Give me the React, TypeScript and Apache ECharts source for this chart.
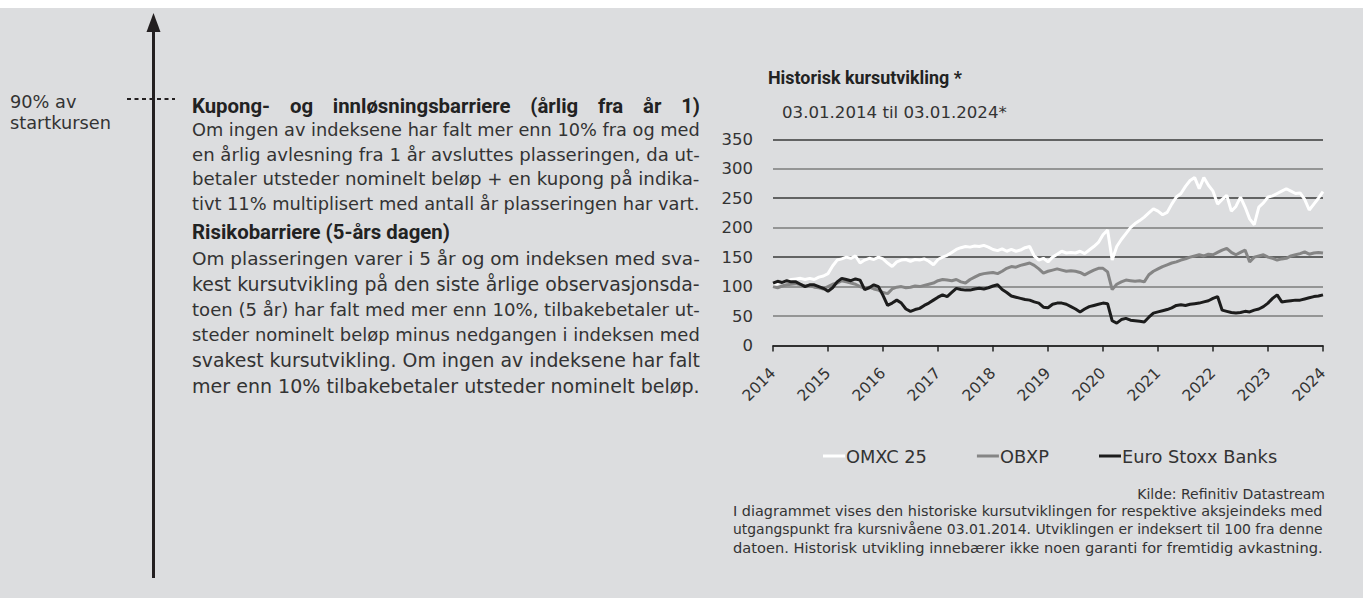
import React, { useEffect, useRef } from "react";
import * as echarts from "echarts";

// ---- Data (monthly, Jan 2014 .. Jan 2024, indexed to 100) ----
const startYear = 2014;
const endYear = 2024;
const seriesNames = ["OMXC 25", "OBXP", "Euro Stoxx Banks"];
const seriesColors = ["#ffffff", "#858585", "#1c1c1c"];

const omxc25 = [
  103, 105, 108, 110, 112, 113, 114, 112, 114, 112, 116, 118,
  122, 135, 145, 147, 150, 148, 152, 140, 145, 148, 146, 150,
  147, 140, 134, 142, 145, 146, 143, 146, 145, 147, 143, 137,
  146, 150, 153, 158, 163, 166, 168, 167, 169, 168, 170, 167,
  163, 161, 164, 160, 163, 160, 162, 166, 168, 152, 145, 148,
  142, 150, 155, 160, 157, 158, 157, 160, 156, 162, 168, 175,
  188, 196, 145, 168, 180, 190, 200, 207, 212, 218, 225, 232,
  228, 222, 226, 240, 252, 258, 270, 280, 285, 266, 285, 272,
  262, 240, 248, 255, 228, 236, 252, 235, 215, 205, 235, 242,
  252, 254, 258, 262, 266, 262, 258, 259, 248, 230, 240, 250,
  261,
];

const obxp = [
  100, 98, 101, 103, 104, 105, 103, 101, 102, 99, 98, 96,
  100, 104, 106, 110, 108, 106, 104, 100, 97, 99, 96, 94,
  90, 88, 96, 99, 100, 98, 99, 101, 100, 102, 104, 106,
  110, 112, 111, 110, 112, 108, 106, 112, 116, 120, 122, 123,
  124, 122, 126, 131, 134, 133, 136, 138, 140, 136, 130, 123,
  126, 128, 130, 128, 126, 127, 126, 124, 120, 124, 128, 131,
  131, 125, 95, 104, 108, 111, 110, 109, 110, 108, 120, 126,
  130, 134, 137, 140, 142, 145, 147, 150, 152, 154, 152, 155,
  154, 158, 162, 165, 158, 154, 158, 162, 142, 150, 152, 154,
  150, 148, 145, 147, 148, 152, 154, 156, 159, 155, 157, 158,
  157,
];

const euroStoxxBanks = [
  106, 109, 107, 110, 108, 108, 104, 100, 103, 103, 100, 97,
  92, 98, 108, 114, 112, 110, 113, 111, 95, 98, 103, 100,
  85, 68, 72, 77, 72, 62, 58, 61, 63, 68, 72, 77,
  82, 86, 83, 90, 97, 95, 94, 94, 96, 97, 96, 98,
  101, 103, 95, 90, 84, 82, 80, 78, 77, 74, 72, 65,
  64, 70, 72, 72, 70, 66, 62, 57, 62, 66, 68, 70,
  72, 71, 42, 38, 44, 46, 43, 42, 41, 40, 48, 55,
  57, 59, 61, 64, 68, 69, 68, 70, 71, 72, 74, 76,
  80, 83, 60, 58, 56, 55, 56, 58, 57, 60, 62, 66,
  72, 80, 86, 74, 75, 76, 77, 77, 79, 81, 83, 84,
  86,
];

const seriesValues = [omxc25, obxp, euroStoxxBanks];

// ---- Texts ----
const leftLabel = ["90% av", "startkursen"];
const heading1 = "Kupong- og innløsningsbarriere (årlig fra år 1)";
const para1 = [
  "Om ingen av indeksene har falt mer enn 10% fra og med",
  "en årlig avlesning fra 1 år avsluttes plasseringen, da ut-",
  "betaler utsteder nominelt beløp + en kupong på indika-",
  "tivt 11% multiplisert med antall år plasseringen har vart.",
];
const heading2 = "Risikobarriere (5-års dagen)";
const para2 = [
  "Om plasseringen varer i 5 år og om indeksen med sva-",
  "kest kursutvikling på den siste årlige observasjonsda-",
  "toen (5 år) har falt med mer enn 10%, tilbakebetaler ut-",
  "steder nominelt beløp minus nedgangen i indeksen med",
  "svakest kursutvikling. Om ingen av indeksene har falt",
  "mer enn 10% tilbakebetaler utsteder nominelt beløp.",
];
const chartTitle = "Historisk kursutvikling *";
const chartSubtitle = "03.01.2014 til 03.01.2024*";
const sourceText = "Kilde: Refinitiv Datastream";
const footnote = [
  "I diagrammet vises den historiske kursutviklingen for respektive aksjeindeks med",
  "utgangspunkt fra kursnivåene 03.01.2014. Utviklingen er indeksert til 100 fra denne",
  "datoen. Historisk utvikling innebærer ikke noen garanti for fremtidig avkastning.",
];

const FONT = "'DejaVu Sans', sans-serif";
const BOLD_FONT = "Roboto, 'DejaVu Sans', sans-serif";
const TEXT = "#333333";

let measureCtx: CanvasRenderingContext2D | null = null;
function widthAt(text: string, size: number, weight: string, family: string): number {
  if (!measureCtx) measureCtx = document.createElement("canvas").getContext("2d");
  if (!measureCtx) return text.length * size * 0.55;
  measureCtx.font = `${weight} ${size}px ${family}`;
  return measureCtx.measureText(text).width;
}
function fitOne(text: string, weight: string, family: string, target: number, fb: number) {
  const w = widthAt(text, 100, weight, family);
  return w > 0 ? (target / w) * 100 : fb;
}
function fitBlock(lines: string[], target: number, maxTarget: number, fb: number) {
  const ws = lines.map((l) => widthAt(l, 100, "normal", FONT)).sort((a, b) => a - b);
  const med = ws[Math.floor(ws.length / 2)];
  const mx = ws[ws.length - 1];
  if (!med || !mx) return fb;
  return Math.min((target / med) * 100, (maxTarget / mx) * 100);
}
// per-line size so each justified line reaches the column edge (kept close to the base size)
function lineSize(text: string, base: number, target: number) {
  const s = fitOne(text, "normal", FONT, target, base);
  return Math.max(base * 0.94, Math.min(base * 1.06, s));
}

function textEl(text: string, x: number, y: number, size: number, opts: any = {}) {
  return {
    type: "text",
    silent: true,
    style: {
      text,
      x,
      y,
      fontSize: size,
      fontFamily: opts.family || FONT,
      fontWeight: opts.bold ? "bold" : "normal",
      fill: opts.fill || TEXT,
      textAlign: opts.align || "left",
      textVerticalAlign: "middle",
    },
  };
}

export default function App() {
  const ref = useRef<HTMLDivElement>(null);

  useEffect(() => {
    if (!ref.current) return;
    const chart = echarts.init(ref.current, null, { renderer: "svg" });

    const bx = 192;
    const bodyRight = 700;
    const bodyW = bodyRight - bx;
    const bodySize = fitBlock([...para1, ...para2], bodyW, 518, 17);
    const headSize = fitOne(heading2, "bold", BOLD_FONT, 258, 20);
    const footX = 733;
    const footW = 1323 - footX;
    const footSize = fitBlock(footnote, footW, footW + 4, 13.5);
    const labelSize = fitOne(leftLabel[1], "normal", FONT, 101, 17.5);
    const subSize = fitOne(chartSubtitle, "normal", FONT, 225, 16.5);
    const titleSize = fitOne(chartTitle, "bold", BOLD_FONT, 194, 18);

    const graphics: any[] = [];
    graphics.push({
      type: "rect",
      silent: true,
      shape: { x: 0, y: 0, width: 1363, height: 8 },
      style: { fill: "#ffffff" },
    });
    graphics.push({
      type: "line",
      silent: true,
      shape: { x1: 153.5, y1: 28, x2: 153.5, y2: 578 },
      style: { stroke: "#231f20", lineWidth: 3 },
    });
    graphics.push({
      type: "polygon",
      silent: true,
      shape: { points: [[153.5, 13], [146.5, 32], [160.5, 32]] },
      style: { fill: "#231f20" },
    });
    graphics.push({
      type: "line",
      silent: true,
      shape: { x1: 127, y1: 99, x2: 175, y2: 99 },
      style: { stroke: "#231f20", lineWidth: 2, lineDash: [4, 3.5] },
    });
    graphics.push(textEl(leftLabel[0], 10, 102, labelSize));
    graphics.push(textEl(leftLabel[1], 10, 123, labelSize));

    // heading 1, justified across the column (word by word)
    const hWords = heading1.split(" ");
    const hWidths = hWords.map((w) => widthAt(w, headSize, "bold", BOLD_FONT));
    const hSum = hWidths.reduce((a, b) => a + b, 0);
    const hGap = Math.max(4, (bodyW - hSum) / (hWords.length - 1));
    let hx = bx;
    hWords.forEach((w, i) => {
      graphics.push(textEl(w, hx, 106, headSize, { bold: true, fill: "#222", family: BOLD_FONT }));
      hx += hWidths[i] + hGap;
    });

    para1.forEach((t, i) =>
      graphics.push(textEl(t, bx, 129.5 + i * 24.5, lineSize(t, bodySize, bodyW)))
    );
    graphics.push(textEl(heading2, bx, 232, headSize, { bold: true, fill: "#222", family: BOLD_FONT }));
    para2.forEach((t, i) =>
      graphics.push(textEl(t, bx, 258 + i * 25.5, lineSize(t, bodySize, bodyW)))
    );

    graphics.push(textEl(sourceText, 1325, 494, footSize, { align: "right" }));
    footnote.forEach((t, i) =>
      graphics.push(textEl(t, footX, 511 + i * 18, lineSize(t, footSize, footW)))
    );

    const series = seriesNames.map((name, k) => ({
      name,
      type: "line",
      data: seriesValues[k].map((v, i) => [startYear + i / 12, v]),
      showSymbol: false,
      symbol: "none",
      lineStyle: { color: seriesColors[k], width: 3 },
      itemStyle: { color: seriesColors[k] },
      emphasis: { disabled: true },
    }));

    const dark = "#3a3a3a";
    const gray = "#7d7d7d";

    chart.setOption({
      animation: false,
      backgroundColor: "#dcdddf",
      textStyle: { fontFamily: FONT },
      title: [
        {
          text: chartTitle,
          left: 763,
          top: 78 - 5 - titleSize * 0.55,
          textStyle: { fontSize: titleSize, fontWeight: "bold", color: "#222", fontFamily: BOLD_FONT },
        },
        {
          text: chartSubtitle,
          left: 777,
          top: 113 - 5 - subSize * 0.55,
          textStyle: { fontSize: subSize, fontWeight: "normal", color: TEXT, fontFamily: FONT },
        },
      ],
      legend: {
        left: 818,
        top: 442,
        icon: "rect",
        itemWidth: 22,
        itemHeight: 3,
        itemGap: 50,
        selectedMode: false,
        textStyle: { fontSize: 17.8, color: TEXT, fontFamily: FONT, padding: [0, 0, 0, -4] },
        data: seriesNames,
      },
      grid: { left: 773, right: 40, top: 139.3, bottom: 252.5, containLabel: false },
      xAxis: {
        type: "value",
        min: startYear,
        max: endYear,
        interval: 1,
        axisLine: { show: true, onZero: false, lineStyle: { color: "#222", width: 1.5 } },
        axisTick: { show: true, length: 6, lineStyle: { color: "#222", width: 1.5 } },
        splitLine: { show: false },
        axisLabel: {
          rotate: 45,
          fontSize: 15.5,
          color: TEXT,
          fontFamily: FONT,
          margin: 25,
          showMinLabel: true,
          showMaxLabel: true,
          formatter: (v: number) => String(v),
        },
      },
      yAxis: {
        type: "value",
        min: 0,
        max: 350,
        interval: 50,
        axisLine: { show: false },
        axisTick: { show: false },
        axisLabel: { fontSize: 16.5, color: TEXT, fontFamily: FONT, margin: 20 },
        splitLine: {
          show: true,
          lineStyle: { color: [dark, gray, gray, dark, gray, dark, gray, dark], width: 1.5 },
        },
      },
      graphic: graphics,
      series,
    });

    return () => chart.dispose();
  }, []);

  return (
    <div
      ref={ref}
      style={{ position: "fixed", left: 0, top: 0, width: 1363, height: 598 }}
    />
  );
}
